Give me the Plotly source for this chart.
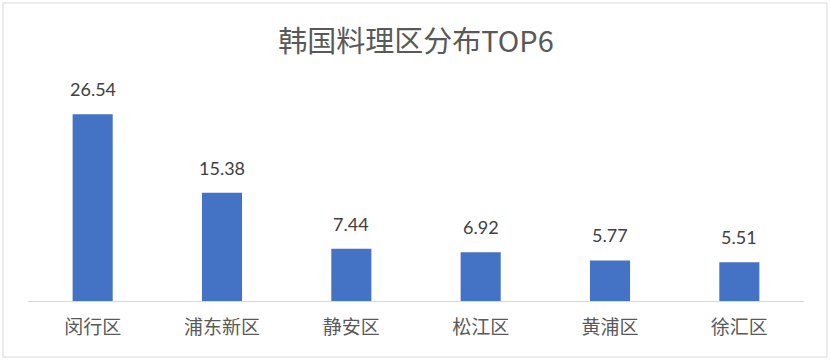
import plotly.graph_objects as go

categories = ["闵行区", "浦东新区", "静安区", "松江区", "黄浦区", "徐汇区"]
values = [26.54, 15.38, 7.44, 6.92, 5.77, 5.51]
title_text = "韩国料理区分布TOP6"

W, H = 831, 363
ml, mr, mt, mb = 28, 27, 90, 62
pw, ph = W - ml - mr, H - mt - mb

fig = go.Figure()
fig.add_trace(go.Bar(
    x=categories, y=values,
    marker=dict(color="#4472C4", line=dict(width=0)),
    width=0.31,
    hoverinfo="x+y",
))

for c, v in zip(categories, values):
    fig.add_annotation(
        x=c, y=v, xref="x", yref="y",
        text=f"{v:.2f}", showarrow=False,
        yanchor="bottom", yshift=12,
        font=dict(family="Lato, Noto Sans CJK SC", size=18, color="#404040"),
    )

def px_to_paper_x(px):
    return (px - ml) / pw

def px_to_paper_y(py):
    return (H - mb - py) / ph

fig.add_shape(
    type="rect", xref="paper", yref="paper",
    x0=px_to_paper_x(3), x1=px_to_paper_x(827),
    y0=px_to_paper_y(357), y1=px_to_paper_y(3),
    line=dict(color="#d9d9d9", width=1), fillcolor="rgba(0,0,0,0)",
    layer="below",
)

fig.update_layout(
    width=W, height=H,
    margin=dict(l=ml, r=mr, t=mt, b=mb),
    paper_bgcolor="white", plot_bgcolor="white",
    showlegend=False,
    title=dict(
        text=title_text, x=0.5, xref="paper", xanchor="center",
        y=1 - 42 / H, yref="container", yanchor="middle",
        font=dict(family="Noto Sans CJK SC", size=29, color="#595959"),
    ),
    xaxis=dict(
        showline=True, linecolor="#d9d9d9", linewidth=1,
        ticks="", showgrid=False, ticklabelstandoff=9,
        tickfont=dict(family="Noto Sans CJK SC", size=19, color="#595959"),
        fixedrange=True,
    ),
    yaxis=dict(
        range=[0, 30], visible=False, showgrid=False, zeroline=False,
        fixedrange=True,
    ),
)

fig.write_html(
    "out.html",
    config={"displayModeBar": False},
    post_script="document.body.style.margin='0';document.body.style.overflow='hidden';",
)
